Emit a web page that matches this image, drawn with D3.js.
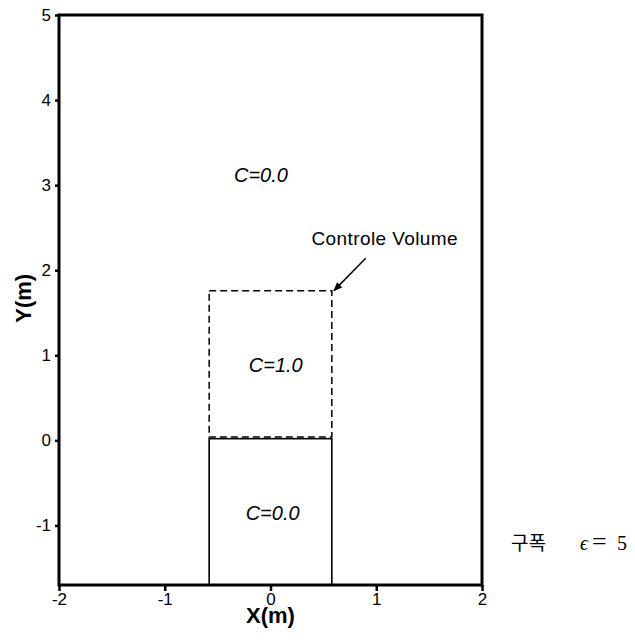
<!DOCTYPE html>
<html>
<head>
<script src="https://d3js.org/d3.v7.min.js"></script>
<style>
  body { margin: 0; background: #fff; font-family: "Liberation Sans", Arial, sans-serif; }
  .tick text { font-size: 17px; font-family: "Liberation Sans", Arial, sans-serif; }
</style>
</head>
<body>
<script>
// axis ranges and ticks
var xDomain = [-2, 2];
var yDomain = [-1.7, 5];
var xTicks = [-2, -1, 0, 1, 2];
var yTicks = [-1, 0, 1, 2, 3, 4, 5];

// regions: [x0, x1, y0, y1]
var solidBox = [-0.58, 0.58, -1.7, 0.02];
var dashedBox = [-0.58, 0.58, 0.04, 1.76];

// concentration labels: [x, y, text]
var cLabels = [[-0.09, 3.04, "C=0.0"], [0.05, 0.80, "C=1.0"], [0.02, -0.94, "C=0.0"]];
var cvLabel = [1.08, 2.30, "Controle Volume"];
var arrow = [[0.9, 2.14], [0.6, 1.76]];

var W = 635, H = 640;
var m = {left: 59, right: 153, top: 15, bottom: 55};

var svg = d3.select("body").append("svg")
  .attr("width", W).attr("height", H);

var x = d3.scaleLinear().domain(xDomain).range([m.left, W - m.right]);
var y = d3.scaleLinear().domain(yDomain).range([H - m.bottom, m.top]);

svg.append("defs").append("marker")
  .attr("id", "ah").attr("viewBox", "0 0 10 10")
  .attr("refX", 9).attr("refY", 5)
  .attr("markerWidth", 8).attr("markerHeight", 6)
  .attr("orient", "auto")
  .append("path").attr("d", "M0,1 L10,5 L0,9 Z").attr("fill", "#000");

// frame
svg.append("rect")
  .attr("x", x(xDomain[0])).attr("y", y(yDomain[1]))
  .attr("width", x(xDomain[1]) - x(xDomain[0]))
  .attr("height", y(yDomain[0]) - y(yDomain[1]))
  .attr("fill", "none").attr("stroke", "#000").attr("stroke-width", 3);

// axes
var fmt = function(d) { return String(d); };
var xAxis = svg.append("g")
  .attr("transform", "translate(0," + y(yDomain[0]) + ")")
  .call(d3.axisBottom(x).tickValues(xTicks).tickSize(6).tickPadding(2).tickFormat(fmt));
var yAxis = svg.append("g")
  .attr("transform", "translate(" + x(xDomain[0]) + ",0)")
  .call(d3.axisLeft(y).tickValues(yTicks).tickSize(4).tickPadding(4).tickFormat(fmt));
[xAxis, yAxis].forEach(function(g) {
  g.select(".domain").remove();
  g.selectAll(".tick line").attr("stroke-width", 2.5);
  g.selectAll(".tick text").attr("fill", "#000");
});

// boxes
svg.append("rect")
  .attr("x", x(solidBox[0])).attr("y", y(solidBox[3]))
  .attr("width", x(solidBox[1]) - x(solidBox[0]))
  .attr("height", y(solidBox[2]) - y(solidBox[3]))
  .attr("fill", "none").attr("stroke", "#000").attr("stroke-width", 1.6);

svg.append("rect")
  .attr("x", x(dashedBox[0])).attr("y", y(dashedBox[3]))
  .attr("width", x(dashedBox[1]) - x(dashedBox[0]))
  .attr("height", y(dashedBox[2]) - y(dashedBox[3]))
  .attr("fill", "none").attr("stroke", "#000").attr("stroke-width", 1.5)
  .attr("stroke-dasharray", "7,4");

// labels
svg.selectAll(".clab").data(cLabels).enter().append("text")
  .attr("class", "clab")
  .attr("x", function(d) { return x(d[0]); })
  .attr("y", function(d) { return y(d[1]); })
  .attr("text-anchor", "middle")
  .style("font-size", "20px").style("font-style", "italic")
  .text(function(d) { return d[2]; });

svg.append("text")
  .attr("x", x(cvLabel[0])).attr("y", y(cvLabel[1]))
  .attr("text-anchor", "middle").style("font-size", "19px")
  .style("letter-spacing", "0.4px")
  .text(cvLabel[2]);

svg.append("line")
  .attr("x1", x(arrow[0][0])).attr("y1", y(arrow[0][1]))
  .attr("x2", x(arrow[1][0])).attr("y2", y(arrow[1][1]))
  .attr("stroke", "#000").attr("stroke-width", 1.5)
  .attr("marker-end", "url(#ah)");

// axis titles
svg.append("text")
  .attr("x", x(0)).attr("y", 623)
  .attr("text-anchor", "middle")
  .style("font-size", "22px").style("font-weight", "bold")
  .text("X(m)");
svg.append("text")
  .attr("transform", "translate(31," + y(1.67) + ") rotate(-90)")
  .attr("text-anchor", "middle")
  .style("font-size", "22px").style("font-weight", "bold")
  .text("Y(m)");

// side note
var note = svg.append("text")
  .attr("y", 550)
  .style("font-family", "'Liberation Serif', serif")
  .style("font-size", "20px");
note.append("tspan").attr("x", 511)
  .style("font-family", "'Noto Sans CJK KR', sans-serif").style("font-size", "19px").text("구폭");
note.append("tspan").attr("x", 580).style("font-style", "italic").text("ϵ");
note.append("tspan").attr("x", 592).style("font-size", "26px").text("=");
note.append("tspan").attr("x", 617).text("5");
</script>
</body>
</html>
